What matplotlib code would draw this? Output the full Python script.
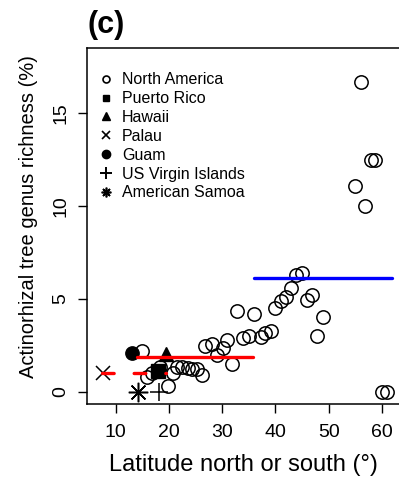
import matplotlib
matplotlib.use("Agg")
import matplotlib.pyplot as plt
from matplotlib.lines import Line2D

plt.rcParams["font.family"] = ["Liberation Sans", "DejaVu Sans"]

# North America plots (latitude, % actinorhizal genera)
na_lat = [14.9, 15.8, 16.8, 18.3, 19.9, 20.8, 21.6, 22.5, 23.5, 24.4, 25.3, 26.2,
          26.8, 28.0, 29.0, 30.1, 30.9, 31.9, 32.8, 34.0, 35.0, 35.9, 37.2, 38.1, 39.1,
          40.0, 41.1, 42.0, 43.0, 43.8, 45.0, 46.0, 46.9, 47.9, 49.0,
          54.9, 56.0, 56.9, 57.9, 58.8, 60.1, 61.0]
na_rich = [2.2, 0.8, 1.0, 1.3, 0.3, 1.0, 1.3, 1.3, 1.25, 1.2, 1.2, 0.9,
           2.45, 2.55, 1.95, 2.35, 2.8, 1.5, 4.35, 2.9, 3.0, 4.2, 2.95, 3.15, 3.25,
           4.5, 4.9, 5.1, 5.6, 6.3, 6.4, 4.95, 5.2, 3.0, 4.0,
           11.1, 16.7, 10.0, 12.5, 12.5, 0.0, 0.0]

# island regions: (latitude, richness)
pr_lat, pr_rich = [18.0], [1.1]
hi_lat, hi_rich = [19.5], [2.0]
palau_lat, palau_rich = [7.6], [1.0]
guam_lat, guam_rich = [13.1], [2.05]
usvi_lat, usvi_rich = [18.2], [0.0]
samoa_lat, samoa_rich = [14.1], [0.0]

# mean lines: (lat start, lat end, level)
red_solid = (13.9, 35.8, 1.86)
red_dashed = (7.35, 19.4, 1.0)
blue_solid = (36.05, 62.0, 6.12)

xticks = [10, 20, 30, 40, 50, 60]
yticks = [0, 5, 10, 15]

fig = plt.figure(figsize=(3.99, 4.78), dpi=100)
# right edge of the panel sits just past the crop
ax = fig.add_axes([0.218, 0.1542, 0.785, 0.7454])

ms = 9.6
ax.plot(na_lat, na_rich, "o", mfc="none", mec="black", mew=1.1, ms=ms, ls="none")
ax.plot(pr_lat, pr_rich, "s", color="black", ms=9.5, ls="none")
ax.plot(hi_lat, hi_rich, "^", color="black", ms=9.5, ls="none")
ax.plot(palau_lat, palau_rich, "x", color="black", mew=1.1, ms=10.5, ls="none")
ax.plot(guam_lat, guam_rich, "o", color="black", ms=ms, ls="none")
ax.plot(usvi_lat, usvi_rich, "+", color="black", mew=1.1, ms=13, ls="none")
ax.plot(samoa_lat, samoa_rich, marker=(8, 2, 0), color="black", mew=1.1, ms=14, ls="none")

ax.plot(red_solid[:2], [red_solid[2]] * 2, color="red", lw=2.4, solid_capstyle="round")
ax.plot(red_dashed[:2], [red_dashed[2]] * 2, color="red", lw=2.4,
        dashes=(3.5, 6.0), dash_capstyle="round")
ax.plot(blue_solid[:2], [blue_solid[2]] * 2, color="blue", lw=2.4, solid_capstyle="round")

ax.set_xlim(4.59, 63.45)
ax.set_ylim(-0.69, 18.53)
ax.set_xticks(xticks)
ax.set_yticks(yticks)
ax.set_yticklabels([str(t) for t in yticks], rotation=90, va="center")
ax.tick_params(direction="out", length=6.5, width=1.0, labelsize=14, pad=6)
ax.tick_params(axis="x", pad=8)
ax.spines["right"].set_visible(False)
for s in ax.spines.values():
    s.set_linewidth(1.1)

ax.set_xlabel("Latitude north or south (°)", fontsize=17, labelpad=9)
ax.set_ylabel("Actinorhizal tree genus richness (%)", fontsize=14.5)
ax.yaxis.set_label_coords(-0.155, 0.528)

handles = [
    Line2D([], [], marker="o", mfc="none", mec="black", mew=1.2, ms=5, ls="none"),
    Line2D([], [], marker="s", color="black", ms=5, ls="none"),
    Line2D([], [], marker="^", color="black", ms=5.5, ls="none"),
    Line2D([], [], marker="x", color="black", mew=1.2, ms=5.5, ls="none"),
    Line2D([], [], marker="o", color="black", ms=6, ls="none"),
    Line2D([], [], marker="+", color="black", mew=1.4, ms=8, ls="none"),
    Line2D([], [], marker=(8, 2, 0), color="black", mew=1.2, ms=7, ls="none"),
]
labels = ["North America", "Puerto Rico", "Hawaii", "Palau", "Guam",
          "US Virgin Islands", "American Samoa"]
ax.legend(handles, labels, loc="upper left", bbox_to_anchor=(0.0, 0.963),
          frameon=False, fontsize=11.5, handlelength=1.0, handletextpad=0.5,
          labelspacing=0.24, borderaxespad=0.3)

fig.text(0.22, 0.948, "(c)", fontsize=22, fontweight="bold", ha="left", va="center")

fig.savefig("out.png", dpi=100)
